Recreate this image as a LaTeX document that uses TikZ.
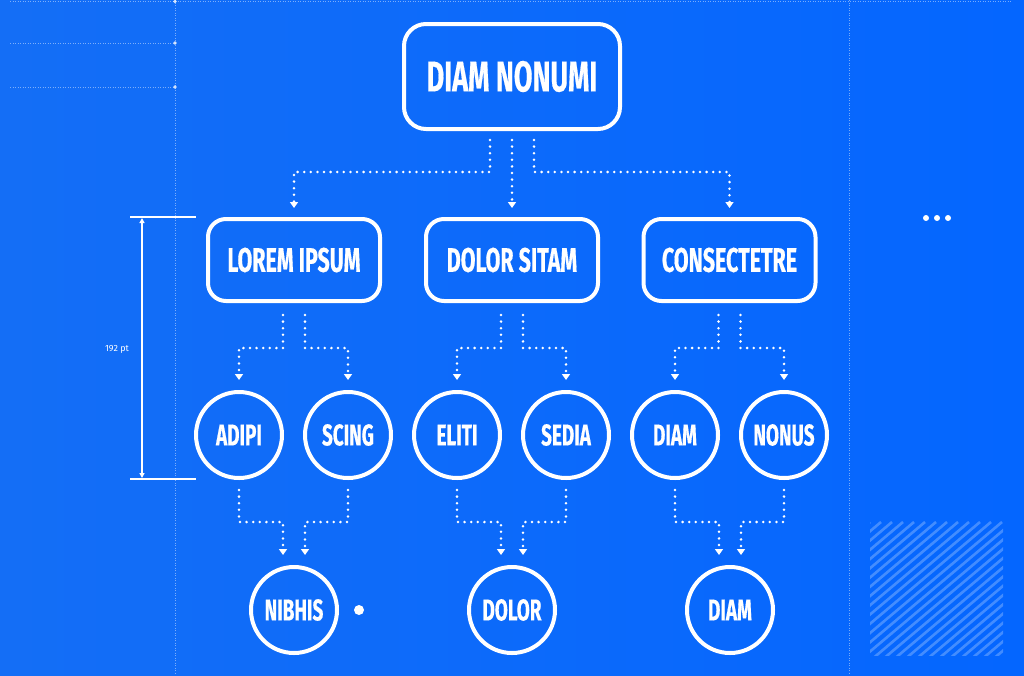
\documentclass[tikz,border=0pt]{standalone}
\usepackage{fontspec}
\setmainfont{Fira Sans}
\newfontfamily\boxfont{Fira Sans}[FakeStretch=0.63, FakeBold=0.4]
\usetikzlibrary{arrows.meta,calc}
\definecolor{bgL}{RGB}{20,110,246}
\definecolor{bgR}{RGB}{4,102,255}
\tikzset{
  rootbox/.style={draw=white, line width=4pt, rounded corners=22pt, minimum width=216pt, minimum height=105pt, text=white, font=\boxfont\bfseries\fontsize{43}{43}\selectfont},
  midbox/.style={draw=white, line width=4pt, rounded corners=18pt, minimum width=172pt, minimum height=82pt, text=white, font=\boxfont\bfseries\fontsize{34}{34}\selectfont},
  circ/.style={draw=white, line width=4pt, circle, minimum size=86pt, inner sep=0pt, text=white, font=\boxfont\bfseries\fontsize{30}{30}\selectfont},
  conn/.style={draw=white, line width=2.8pt, line cap=round, dash pattern=on 0pt off 6.6pt, -{Triangle[width=8pt,length=6pt]}},
  guide/.style={draw=white, opacity=0.45, line width=0.8pt, dash pattern=on 1pt off 1.5pt},
  hatch/.style={draw=white, opacity=0.25, line width=2.6pt},
  dimline/.style={draw=white, line width=1.6pt},
  dot/.style={fill=white, circle, inner sep=0pt}
}
\begin{document}
\begin{tikzpicture}[x=1pt,y=-1pt]
\useasboundingbox (0,0) rectangle (1024,675);
\shade[left color=bgL, right color=bgR] (0,0) rectangle (1024,675);
% guides
\draw[guide] (10,1.5) -- (1012,1.5);
\draw[guide] (10,43) -- (175,43);
\draw[guide] (10,87) -- (175,87);
\draw[guide] (175,0) -- (175,675);
\draw[guide] (849,0) -- (849,675);
\foreach \yy in {1.5,43,87} \fill[white, opacity=0.8] (175,\yy) circle (1.8);
% hatching
\begin{scope}
\clip (870,521) rectangle (1003,655);
\foreach \i in {0,...,30} \draw[hatch] (700+\i*11,665) -- ++(170,-143);
\end{scope}
% three dots
\foreach \xx in {926,937,948} \fill[white] (\xx,218) circle (3);
% dimension
\draw[dimline] (130,217) -- (196,217);
\draw[dimline] (130,479) -- (196,479);
\draw[white, line width=1.2pt, {Triangle[width=5pt,length=5pt]}-{Triangle[width=5pt,length=5pt]}] (142,218) -- (142,478);
\node[text=white, font=\fontsize{9}{9}\selectfont] (dimlabel) at (117,349) {192 pt};
% nodes
\node[rootbox] (root) at (512,76.5) {DIAM NONUMI};
\node[midbox] (lorem) at (294,260) {LOREM IPSUM};
\node[midbox] (dolor) at (512,260) {DOLOR SITAM};
\node[midbox] (cons) at (729.5,260) {CONSECTETRE};
\node[circ] (adipi) at (239,435) {ADIPI};
\node[circ] (scing) at (348,435) {SCING};
\node[circ] (eliti) at (457,435) {ELITI};
\node[circ] (sedia) at (566,435) {SEDIA};
\node[circ] (diam) at (675,435) {DIAM};
\node[circ] (nonus) at (784,435) {NONUS};
\node[circ] (nibhis) at (294,610) {NIBHIS};
\node[circ] (dolor2) at (512,610) {DOLOR};
\node[circ] (diam2) at (730,610) {DIAM};
\node[dot, minimum size=10pt] (sidedot) at (359,610) {};
% root -> level 2
\draw[conn] ([xshift=-22pt,yshift=-9pt]root.south) -- ++(0,32) -| ([yshift=9pt]lorem.north);
\draw[conn] ([yshift=-9pt]root.south) -- ([yshift=9pt]dolor.north);
\draw[conn] ([xshift=22pt,yshift=-9pt]root.south) -- ++(0,32) -| ([yshift=9pt]cons.north);
% level 2 -> level 3
\draw[conn] ([xshift=-11pt,yshift=-12pt]lorem.south) -- ++(0,33) -| ([yshift=10pt]adipi.north);
\draw[conn] ([xshift=11pt,yshift=-12pt]lorem.south) -- ++(0,33) -| ([yshift=10pt]scing.north);
\draw[conn] ([xshift=-11pt,yshift=-12pt]dolor.south) -- ++(0,33) -| ([yshift=10pt]eliti.north);
\draw[conn] ([xshift=11pt,yshift=-12pt]dolor.south) -- ++(0,33) -| ([yshift=10pt]sedia.north);
\draw[conn] ([xshift=-11pt,yshift=-12pt]cons.south) -- ++(0,33) -| ([yshift=10pt]diam.north);
\draw[conn] ([xshift=11pt,yshift=-12pt]cons.south) -- ++(0,33) -| ([yshift=10pt]nonus.north);
% level 3 -> level 4
\draw[conn] ([yshift=-10pt]adipi.south) -- ++(0,32) -| ([xshift=-11pt,yshift=10pt]nibhis.north);
\draw[conn] ([yshift=-10pt]scing.south) -- ++(0,32) -| ([xshift=11pt,yshift=10pt]nibhis.north);
\draw[conn] ([yshift=-10pt]eliti.south) -- ++(0,32) -| ([xshift=-11pt,yshift=10pt]dolor2.north);
\draw[conn] ([yshift=-10pt]sedia.south) -- ++(0,32) -| ([xshift=11pt,yshift=10pt]dolor2.north);
\draw[conn] ([yshift=-10pt]diam.south) -- ++(0,32) -| ([xshift=-11pt,yshift=10pt]diam2.north);
\draw[conn] ([yshift=-10pt]nonus.south) -- ++(0,32) -| ([xshift=11pt,yshift=10pt]diam2.north);
\end{tikzpicture}
\end{document}
